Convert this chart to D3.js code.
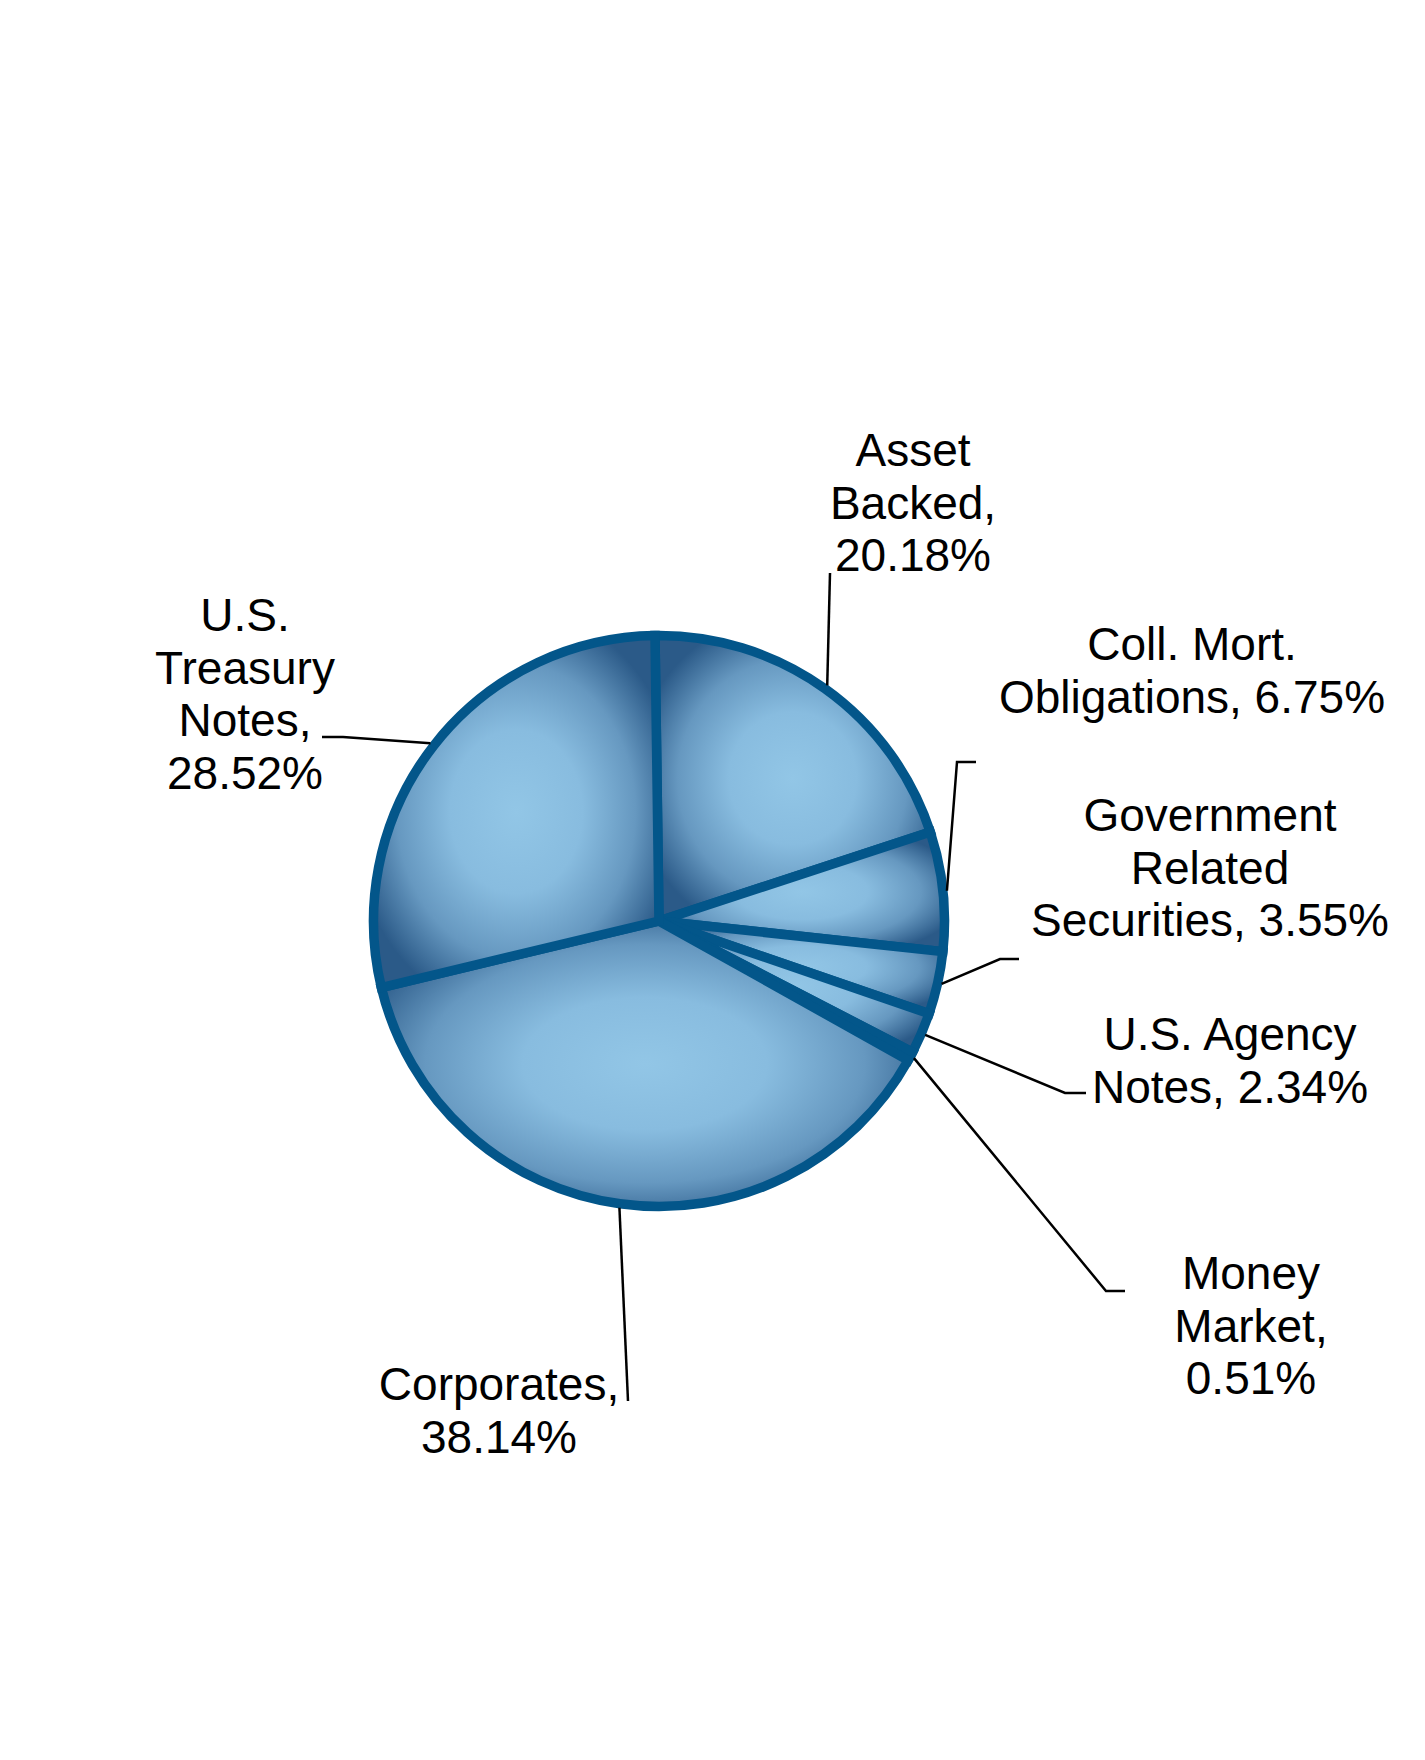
<!DOCTYPE html>
<html>
<head>
<meta charset="utf-8">
<script src="https://cdn.jsdelivr.net/npm/d3@7"></script>
<style>
  body { margin: 0; background: #fff; }
  svg text { font-family: "Liberation Sans", Arial, sans-serif; }
</style>
</head>
<body>
<div id="chart"></div>
<script>
// portfolio mix, clockwise from 12 o'clock
const categories = ['Asset Backed', 'Coll. Mort. Obligations', 'Government Related Securities',
  'U.S. Agency Notes', 'Money Market', 'Corporates', 'U.S. Treasury Notes'];
const values = [20.18, 6.75, 3.55, 2.34, 0.51, 38.14, 28.52];

// where each label sits (manual placement, like the original)
const labelLayout = [
  { cx: 913, top: 466, wrap: 200, end: [830, 573], stub: 0 },
  { cx: 1192, top: 660, wrap: 400, end: [976, 762], stub: -19 },
  { cx: 1210, top: 831, wrap: 370, end: [1019, 959], stub: -19 },
  { cx: 1230, top: 1050, wrap: 300, end: [1086, 1093], stub: -21 },
  { cx: 1251, top: 1289, wrap: 200, end: [1125, 1291], stub: -19 },
  { cx: 499, top: 1400, wrap: 300, end: [628, 1401], stub: 0 },
  { cx: 245, top: 631, wrap: 200, end: [322, 737], stub: 21 },
];

const width = 1425;
const height = 1760;
const cx = 659;
const cy = 921;
const radius = 285.5;
const startAngle = -0.014;
const fontSize = 46;
const lineHeight = 52.5;

const data = categories.map((c, i) => ({ category: c, value: values[i], layout: labelLayout[i] }));

const svg = d3.select('#chart')
  .append('svg')
  .attr('width', width)
  .attr('height', height)
  .attr('viewBox', `0 0 ${width} ${height}`);

const defs = svg.append('defs');
data.forEach((d, i) => {
  const g = defs.append('radialGradient')
    .attr('id', `slice-grad-${i}`)
    .attr('cx', 0.5).attr('cy', 0.5).attr('r', 0.58);
  [[0, '#92c6e6'], [0.4, '#88bcdf'], [0.72, '#6698c0'], [1, '#2b5a88']].forEach(([o, c]) => {
    g.append('stop').attr('offset', o).attr('stop-color', c);
  });
});

const pie = d3.pie()
  .value(d => d.value)
  .sort(null)
  .startAngle(startAngle)
  .endAngle(startAngle + 2 * Math.PI);

const arcs = pie(data);

const arc = d3.arc().innerRadius(0).outerRadius(radius);
const edgeArc = d3.arc().innerRadius(radius + 4).outerRadius(radius + 4);

const chart = svg.append('g').attr('transform', `translate(${cx}, ${cy})`);

chart.selectAll('.slice')
  .data(arcs)
  .enter().append('path')
  .attr('class', 'slice')
  .attr('d', arc)
  .attr('fill', (d, i) => `url(#slice-grad-${i})`)
  .attr('stroke', '#03568a')
  .attr('stroke-width', 9.5)
  .attr('stroke-linejoin', 'miter');

// leader lines
const line = d3.line();
svg.selectAll('.leader')
  .data(arcs)
  .enter().append('path')
  .attr('class', 'leader')
  .attr('fill', 'none')
  .attr('stroke', '#000')
  .attr('stroke-width', 2.5)
  .attr('d', d => {
    const [ex, ey] = edgeArc.centroid(d);
    const L = d.data.layout;
    const pts = [[cx + ex, cy + ey]];
    if (L.stub) pts.push([L.end[0] + L.stub, L.end[1]]);
    pts.push(L.end);
    return line(pts);
  });

// labels, wrapped word by word like the original
const labels = svg.selectAll('.label')
  .data(data)
  .enter().append('text')
  .attr('class', 'label')
  .attr('text-anchor', 'middle')
  .attr('font-size', fontSize)
  .attr('fill', '#000');

labels.each(function(d) {
  const text = d3.select(this);
  const words = `${d.category}, ${d.value.toFixed(2)}%`.split(' ');
  const L = d.layout;
  const lines = [];
  let cur = [];
  const probe = text.append('tspan');
  words.forEach(w => {
    const next = cur.concat(w).join(' ');
    probe.text(next);
    if (cur.length && probe.node().getComputedTextLength() > L.wrap) {
      lines.push(cur.join(' '));
      cur = [w];
    } else {
      cur.push(w);
    }
  });
  lines.push(cur.join(' '));
  probe.remove();
  lines.forEach((t, k) => {
    text.append('tspan')
      .attr('x', L.cx)
      .attr('y', L.top + k * lineHeight)
      .text(t);
  });
});
</script>
</body>
</html>
